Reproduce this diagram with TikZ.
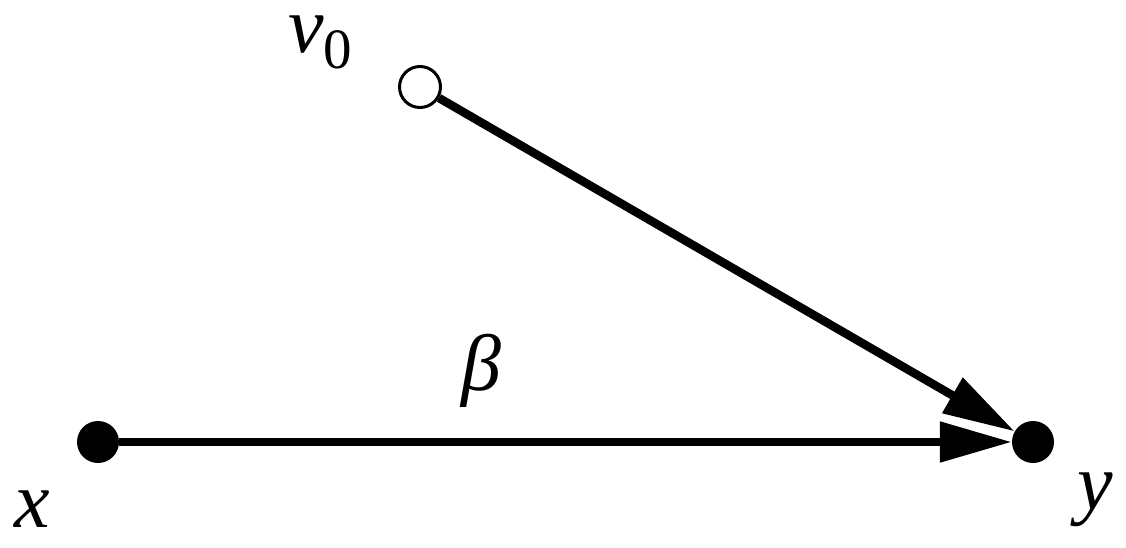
\documentclass[tikz,border=0pt]{standalone}
\usepackage{fontspec}
\setmainfont{Liberation Serif}
\usetikzlibrary{arrows.meta}
\begin{document}
\begin{tikzpicture}[x=1pt,y=-1pt,
  dot/.style={circle,fill=black,inner sep=0pt,minimum size=42pt},
  odot/.style={circle,draw=black,fill=white,line width=3pt,inner sep=0pt,minimum size=41pt},
  conn/.style={line width=8.5pt,-{Triangle[length=72pt,width=39pt]}},
  lbl/.style={inner sep=0pt,anchor=base,font=\fontsize{80}{90}\selectfont\itshape}]
\useasboundingbox (0,0) rectangle (1126,548);
\node[dot] (x) at (98,442) {};
\node[dot] (y) at (1033,442) {};
\node[odot] (v) at (420,87) {};
\draw[conn] (x) -- (y);
\draw[conn] (v) -- (y);
\node[lbl] (lx) at (32,527) {x};
\node[lbl] (ly) at (1095,509) {y};
\node[lbl] (lb) at (481,390) {β};
\node[lbl,anchor=base west,text height=36pt] (lv) at (288,53) {v\raisebox{-16pt}{\fontsize{57}{60}\selectfont\upshape 0}};
\end{tikzpicture}
\end{document}
